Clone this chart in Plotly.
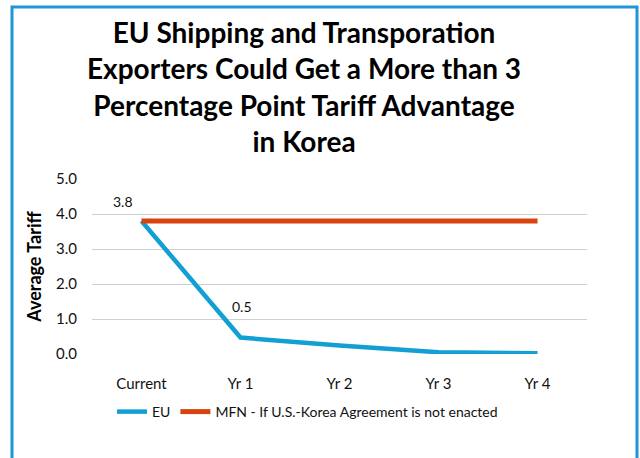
import plotly.graph_objects as go

categories = ["Current", "Yr 1", "Yr 2", "Yr 3", "Yr 4"]
eu_values = [3.8, 0.47, 0.24, 0.05, 0.02]
mfn_values = [3.8, 3.8, 3.8, 3.8, 3.8]
label_points = [0, 1]
label_text = ["3.8", "0.5"]
y_ticks = [0, 1, 2, 3, 4, 5]
title_text = ("EU Shipping and Transporation<br>Exporters Could Get a More than 3<br>"
              "Percentage Point Tariff Advantage<br>in Korea")

FONT = "Lato"
BLUE = "#129FD3"
RED = "#D8430F"

fig = go.Figure()
fig.add_trace(go.Scatter(x=categories, y=eu_values, mode="lines", name="EU",
                         line=dict(color=BLUE, width=4.5)))
fig.add_trace(go.Scatter(x=categories, y=mfn_values, mode="lines",
                         name="MFN - If U.S.-Korea Agreement is not enacted",
                         line=dict(color=RED, width=5)))

shifts = [(-19, 20), (1, 31)]
for k, (i, t) in enumerate(zip(label_points, label_text)):
    fig.add_annotation(x=categories[i], y=eu_values[i], text=t, showarrow=False,
                       xshift=shifts[k][0], yshift=shifts[k][1],
                       font=dict(family=FONT, size=14, color="#111"))

L, R, T, B = 92, 587, 179, 354
W, H = 640, 458
pw, ph = R - L, B - T
def px(x): return (x - L) / pw
def py(y): return (B - y) / ph

fig.add_annotation(xref="paper", yref="paper", x=px(304), y=py(87),
                   xanchor="center", yanchor="middle", showarrow=False,
                   text=title_text, align="center",
                   font=dict(family=FONT, size=28, color="black", weight="bold"))

fig.add_shape(type="rect", xref="paper", yref="paper",
              x0=px(12), x1=px(637), y0=py(7), y1=py(475),
              line=dict(color="#1F97D6", width=3), layer="above")

fig.update_layout(
    width=W, height=H,
    margin=dict(l=L, r=W - R, t=T, b=H - B),
    paper_bgcolor="white", plot_bgcolor="white",
    xaxis=dict(range=[-0.5, 4.5], showgrid=False, zeroline=False, showline=False,
               ticks="", tickfont=dict(family=FONT, size=15, color="#111"),
               ticklabelstandoff=19),
    yaxis=dict(range=[0, 5], tickvals=y_ticks, tickformat=".1f", showgrid=True,
               gridcolor="#D0D0D0", gridwidth=1, zeroline=False, showline=False,
               ticks="", tickfont=dict(family=FONT, size=15, color="#111"),
               ticklabelstandoff=14,
               title=dict(text="<b>Average Tariff</b>", standoff=9,
                          font=dict(family=FONT, size=18, color="black"))),
    legend=dict(orientation="h", x=px(112), xanchor="left", y=py(412), yanchor="middle",
                font=dict(family=FONT, size=14, color="#111"), bgcolor="rgba(0,0,0,0)",
                itemwidth=30),
    showlegend=True,
)

fig.write_html("out.html", config={"displayModeBar": False},
               post_script="document.body.style.margin='0';")
